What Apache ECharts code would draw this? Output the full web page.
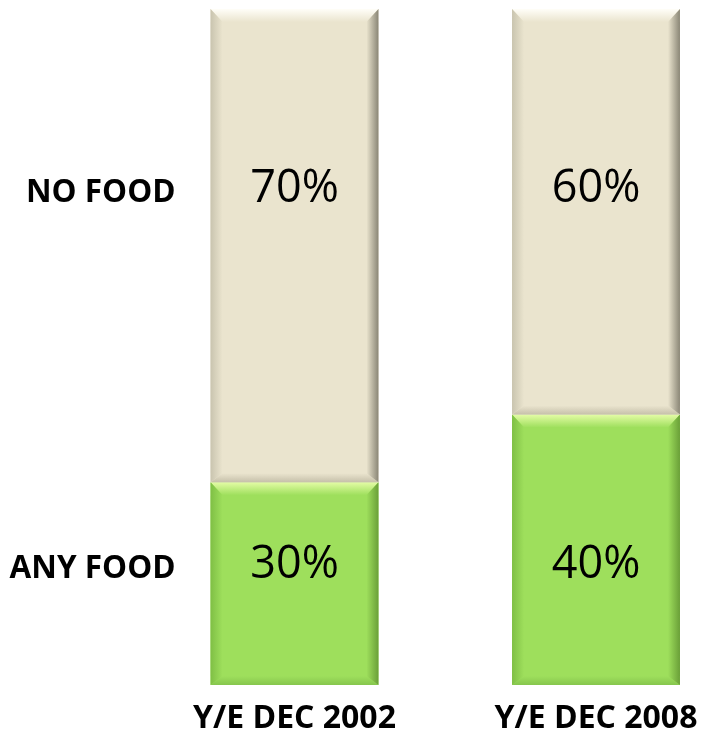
<!DOCTYPE html>
<html>
<head>
<meta charset="utf-8">
<script src="https://cdn.jsdelivr.net/npm/echarts@6/dist/echarts.min.js"></script>
<style>
  html, body { margin: 0; padding: 0; background: #ffffff; }
  #chart { width: 704px; height: 739px; }
</style>
</head>
<body>
<div id="chart"></div>
<script>
// Share of baskets, by period
const categories = ['Y/E DEC 2002', 'Y/E DEC 2008'];
const seriesNames = ['ANY FOOD', 'NO FOOD'];
const anyFood = [30, 40];
const noFood = [70, 60];

// Bevel palettes for each segment kind
const palettes = [
  { base: '#9EDF5C', light: '#E4FCA6', side: '#7FBF45', dark: '#6A9F38', bottom: '#86C64E' },
  { base: '#EAE4CE', light: '#FFFEF8', side: '#C9C4AF', dark: '#8A8676', bottom: '#C6C0AA' }
];

function segments(values, bases, kind) {
  return values.map((v, i) => [i, bases[i], bases[i] + v, kind]);
}
const zeros = categories.map(() => 0);
const anyData = segments(anyFood, zeros, 0);
const noData = segments(noFood, anyFood, 1);

function renderSeg(params, api) {
  const cat = api.value(0);
  const lo = api.value(1);
  const hi = api.value(2);
  const kind = api.value(3);
  const pal = palettes[kind];
  const pLo = api.coord([cat, lo]);
  const pHi = api.coord([cat, hi]);
  const w = api.size([1, 0])[0] * 0.557;
  const x0 = pLo[0] - w / 2, x1 = pLo[0] + w / 2;
  const y0 = pHi[1], y1 = pLo[1];
  const t = 13, s = 12, b = 9;
  const vert = (c1, c2) => new echarts.graphic.LinearGradient(0, 0, 0, 1, [{ offset: 0, color: c1 }, { offset: 1, color: c2 }]);
  const horz = (c1, c2) => new echarts.graphic.LinearGradient(0, 0, 1, 0, [{ offset: 0, color: c1 }, { offset: 1, color: c2 }]);
  const children = [
    { type: 'rect', shape: { x: x0, y: y0, width: x1 - x0, height: y1 - y0 }, style: { fill: pal.base } },
    { type: 'polygon', shape: { points: [[x0, y0], [x1, y0], [x1 - s, y0 + t], [x0 + s, y0 + t]] }, style: { fill: vert(pal.light, pal.base) } },
    { type: 'polygon', shape: { points: [[x0, y1], [x1, y1], [x1 - s, y1 - b], [x0 + s, y1 - b]] }, style: { fill: vert(pal.base, pal.bottom) } },
    { type: 'polygon', shape: { points: [[x0, y0], [x0 + s, y0 + t], [x0 + s, y1 - b], [x0, y1]] }, style: { fill: horz(pal.side, pal.base) } },
    { type: 'polygon', shape: { points: [[x1, y0], [x1, y1], [x1 - s, y1 - b], [x1 - s, y0 + t]] }, style: { fill: horz(pal.base, pal.dark) } }
  ];
  const labelY = kind === 0 ? y1 - 120 : y0 + 180;
  children.push({
    type: 'text',
    style: {
      x: (x0 + x1) / 2, y: labelY, text: (hi - lo) + '%',
      align: 'center', verticalAlign: 'middle',
      font: '45px "Open Sans"', fill: '#000000'
    }
  });
  if (cat === 0) {
    children.push({
      type: 'text',
      style: {
        x: x0 - 35, y: labelY + 4, text: seriesNames[kind],
        align: 'right', verticalAlign: 'middle',
        font: 'bold 31.5px "Open Sans"', fill: '#000000'
      }
    });
  }
  return { type: 'group', children: children };
}

const chart = echarts.init(document.getElementById('chart'), null, { renderer: 'canvas' });
chart.setOption({
  animation: false,
  grid: { left: 294.5, right: 108, top: 9, bottom: 54 },
  xAxis: {
    type: 'category',
    data: categories,
    boundaryGap: false,
    axisLine: { show: false },
    axisTick: { show: false },
    axisLabel: {
      margin: 18,
      fontFamily: 'Open Sans',
      fontWeight: 'bold',
      fontSize: 32,
      color: '#000000'
    }
  },
  yAxis: { type: 'value', min: 0, max: 100, show: false, splitLine: { show: false } },
  series: [
    { type: 'custom', name: seriesNames[0], data: anyData, renderItem: renderSeg, encode: { x: 0, y: [1, 2] } },
    { type: 'custom', name: seriesNames[1], data: noData, renderItem: renderSeg, encode: { x: 0, y: [1, 2] } }
  ]
});
</script>
</body>
</html>
